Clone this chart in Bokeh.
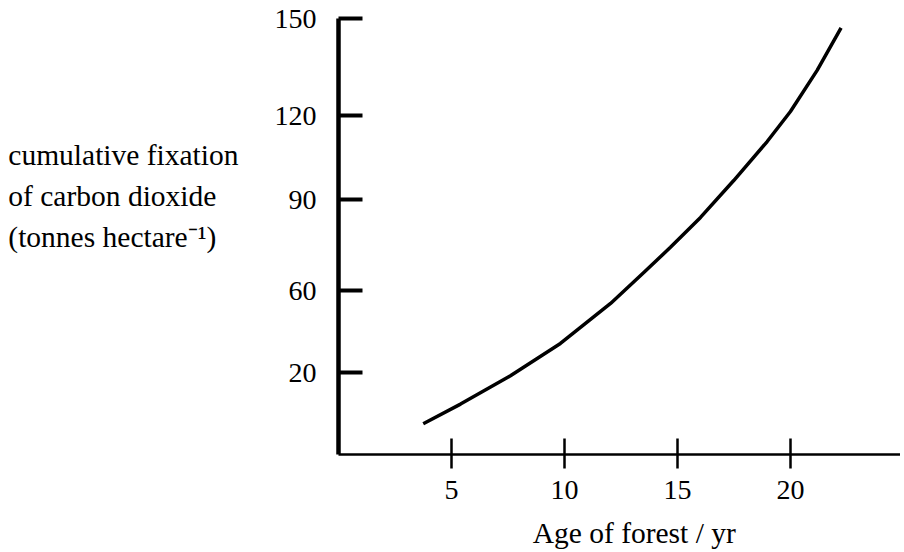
import numpy as np
from bokeh.plotting import figure
from bokeh.models import Range1d, FixedTicker, LinearAxis
from bokeh.embed import file_html
from bokeh.resources import INLINE

# ---- data ----
age = [3.75, 5.40, 7.61, 9.82, 12.04, 13.51, 14.69, 16.02, 17.49, 18.97, 20.0, 21.18, 22.24]
co2 = [7.5, 12.3, 19.2, 34.2, 53.7, 66.0, 74.3, 84.2, 96.9, 110.8, 121.3, 134.0, 147.1]
x_ticks = [5, 10, 15, 20]
y_tick_values = [0, 20, 60, 90, 120, 150]
y_tick_labels = ["", "20", "60", "90", "120", "150"]
x_title = "Age of forest / yr"
y_title_lines = ["cumulative fixation", "of carbon dioxide", "(tonnes hectare\u207b\u00b9)"]

# The original's y axis is hand drawn: ticks sit at these fractions of the axis height
drawn_frac = [0.0, 0.188, 0.376, 0.584, 0.777, 1.0]
y_top = 150.0
y_tick_pos = [round(f * y_top, 2) for f in drawn_frac]

def to_axis(v):
    return np.interp(v, y_tick_values, y_tick_pos)

FONT = "Liberation Serif"
FS = "28px"
FS_TITLE = "29.5px"
NB = "\u00a0"

W, H = 900, 552
LEFT, TOP, BOTTOM = 338, 18, 98
x_end = 24.87

p = figure(width=W, height=H, output_backend="svg", toolbar_location=None,
           x_range=Range1d(0, x_end), y_range=Range1d(0, y_top),
           min_border_left=LEFT, min_border_top=TOP, min_border_right=0, min_border_bottom=BOTTOM)
p.background_fill_color = "white"
p.border_fill_color = "white"
p.outline_line_color = None
p.xgrid.grid_line_color = None
p.ygrid.grid_line_color = None

p.line(age, to_axis(np.array(co2)), line_color="black", line_width=3.5, line_join="round")

xa = p.xaxis[0]
xa.ticker = FixedTicker(ticks=x_ticks, minor_ticks=[])
xa.axis_line_width = 2.5
xa.axis_line_color = "black"
xa.major_tick_in = 16
xa.major_tick_out = 14
xa.major_tick_line_width = 2.5
xa.major_tick_line_color = "black"
xa.minor_tick_line_color = None
xa.major_label_text_font = FONT
xa.major_label_text_font_size = FS
xa.major_label_text_color = "black"
xa.major_label_standoff = 12

ya = p.yaxis[0]
ya.ticker = FixedTicker(ticks=y_tick_pos[1:], minor_ticks=[])
ya.major_label_overrides = {pos: lab for pos, lab in zip(y_tick_pos, y_tick_labels)}
ya.axis_line_width = 4.5
ya.axis_line_color = "black"
ya.major_tick_in = 24
ya.major_tick_out = 0
ya.major_tick_line_width = 4
ya.major_tick_line_color = "black"
ya.minor_tick_line_color = None
ya.major_label_text_font = FONT
ya.major_label_text_font_size = FS
ya.major_label_text_color = "black"
ya.major_label_standoff = 22

def title_axis(ax, text, standoff):
    ax.ticker = FixedTicker(ticks=[], minor_ticks=[])
    ax.axis_line_color = None
    ax.major_tick_line_color = None
    ax.minor_tick_line_color = None
    ax.axis_label = text
    ax.axis_label_text_font = FONT
    ax.axis_label_text_font_size = FS_TITLE
    ax.axis_label_text_font_style = "normal"
    ax.axis_label_text_color = "black"
    ax.axis_label_standoff = standoff
    return ax

# x title (leading no-break spaces nudge it right, as in the original)
xt = title_axis(LinearAxis(), NB * 4 + x_title, 15)
p.add_layout(xt, "below")

# y title: horizontal three-line block left of the tick labels; padding keeps the
# lines flush left and lifts the block above the middle of the axis
pad = [0, 3, 3]
lines = [t + NB * n for t, n in zip(y_title_lines, pad)] + [NB, NB]
yt = title_axis(LinearAxis(), "\n".join(lines), 33)
yt.axis_label_orientation = "horizontal"
yt.axis_label_text_line_height = 1.27
p.add_layout(yt, "left")

open("out.html", "w").write(file_html(p, INLINE))
